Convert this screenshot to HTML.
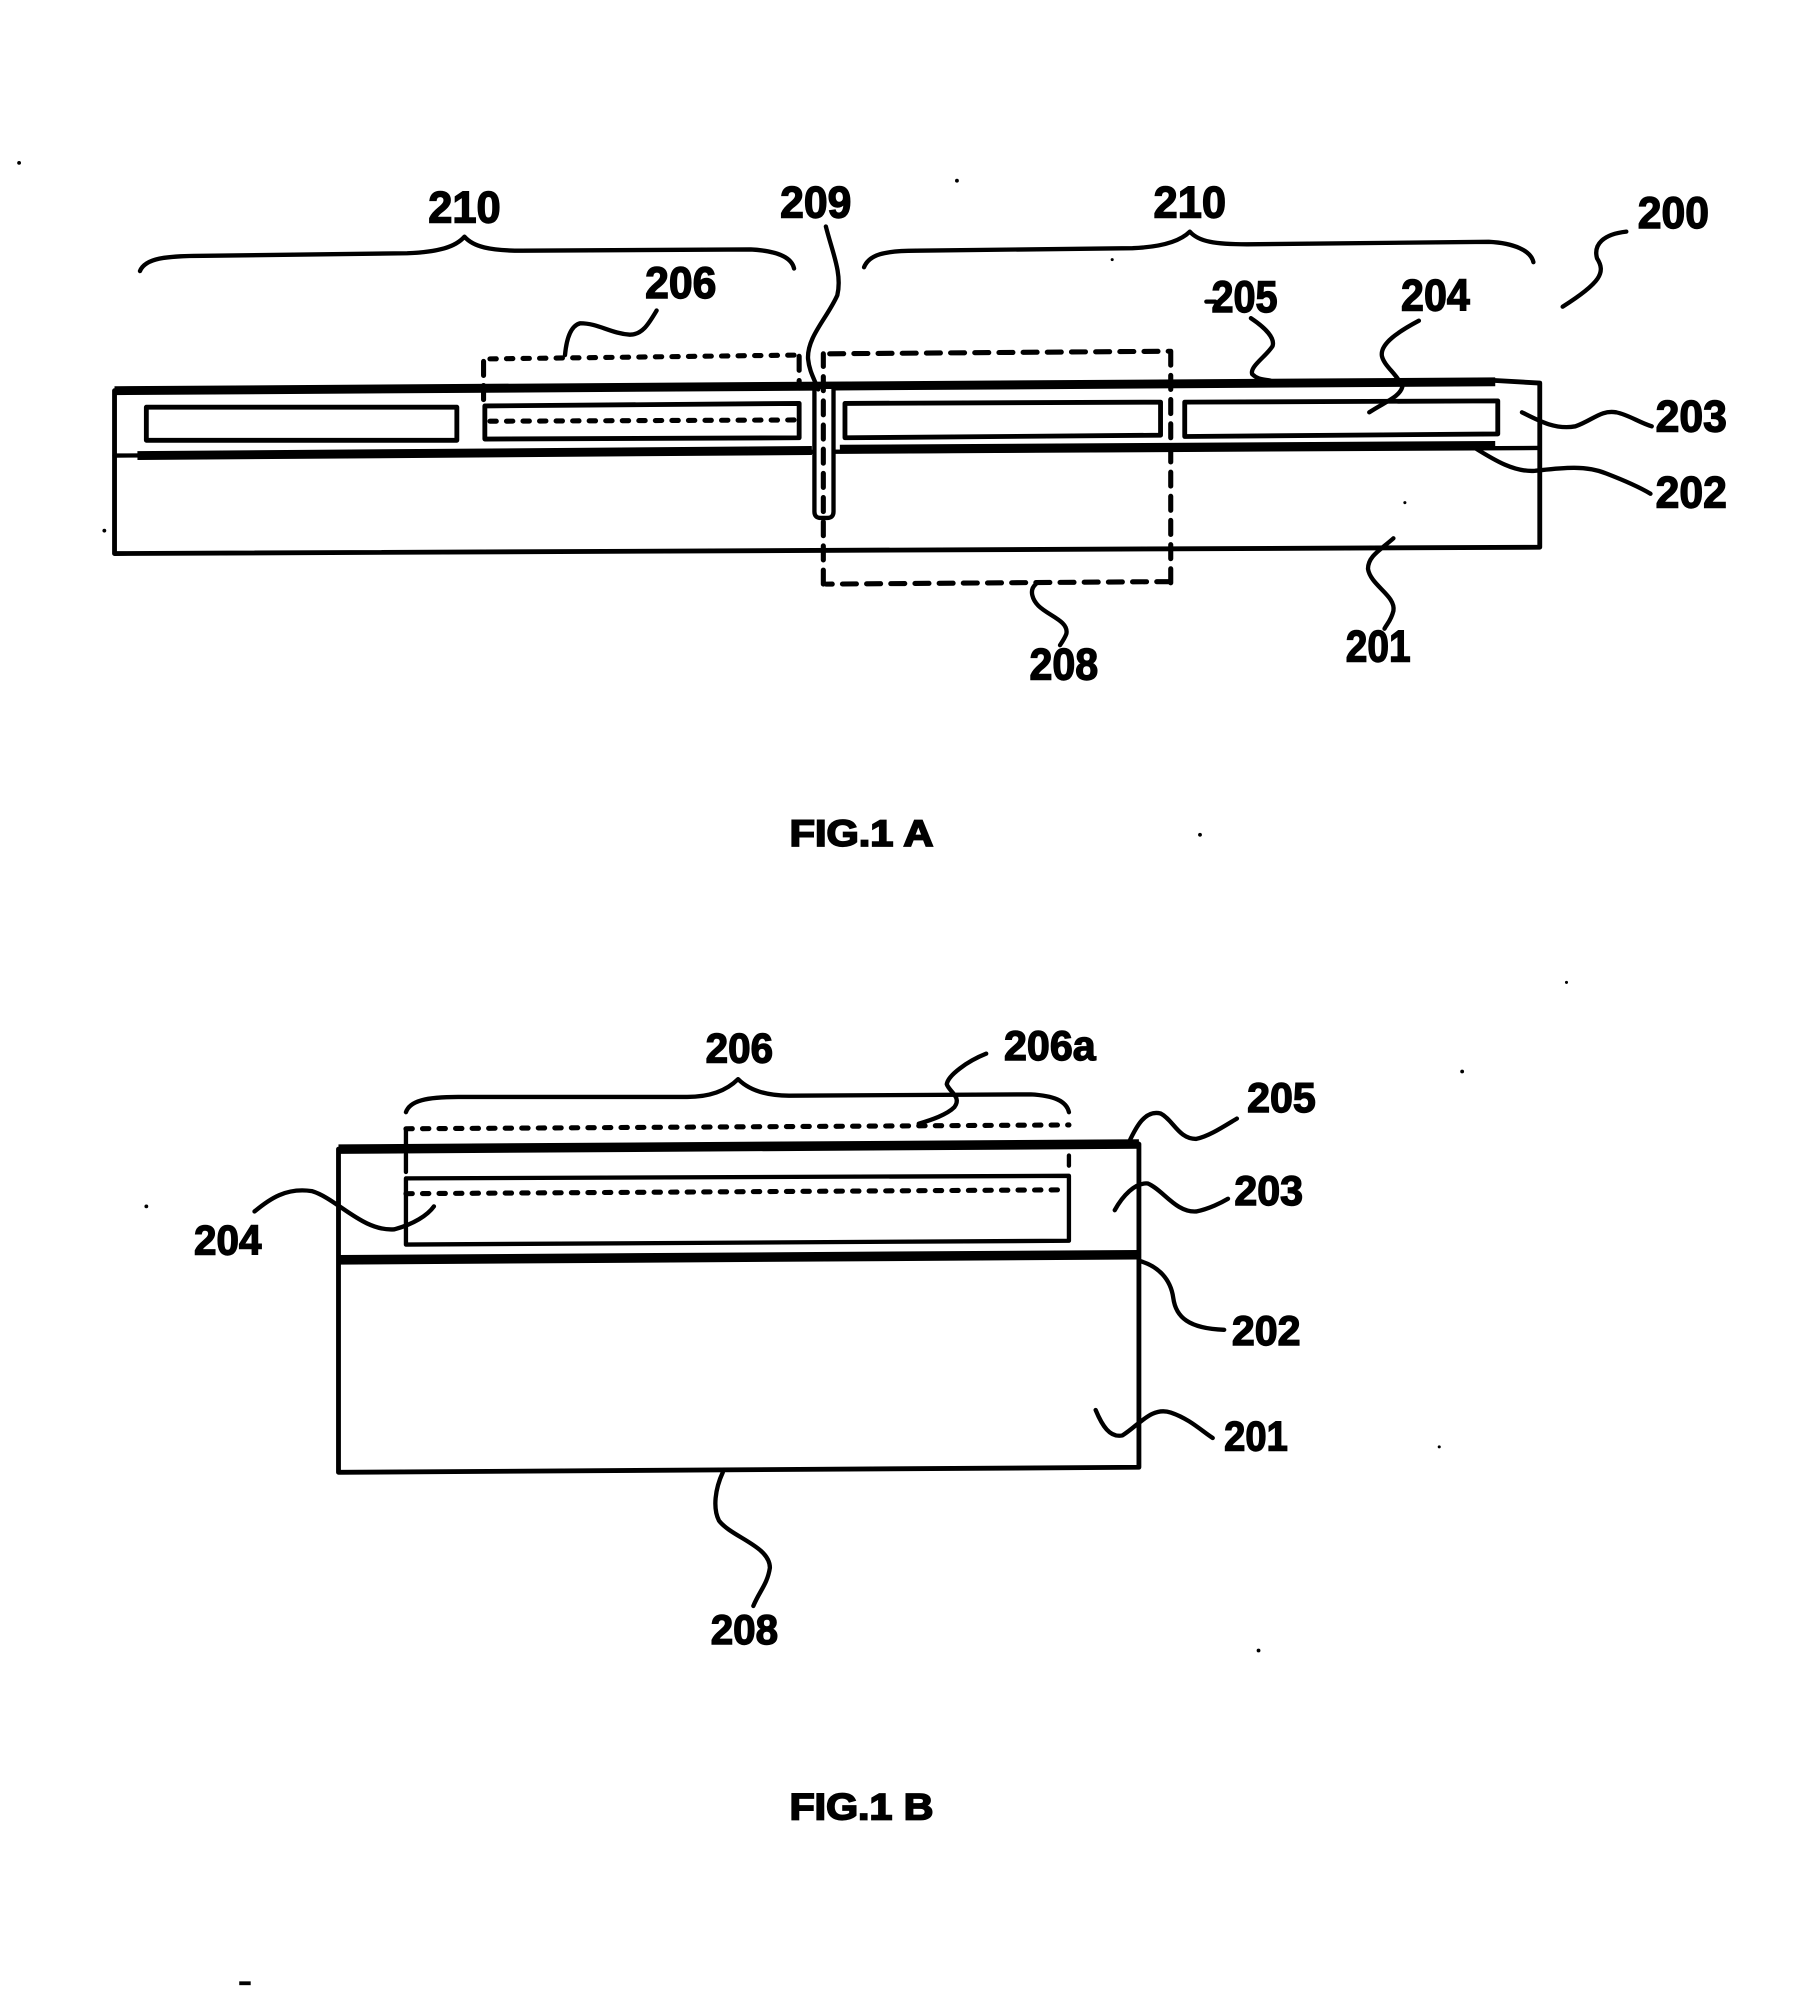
<!DOCTYPE html>
<html><head><meta charset="utf-8"><style>
html,body{margin:0;padding:0;background:#fff}
svg{display:block}
text{font-family:"Liberation Sans",sans-serif;font-weight:bold;fill:#000;stroke:#000;stroke-width:1.1;text-anchor:middle}
.l{font-size:35px}.s{font-size:33px}.f{font-size:29px;stroke-width:1.4}
path,line,rect{fill:none;stroke:#000;stroke-linecap:round;stroke-linejoin:round}
.t{stroke-width:3.4}.h{stroke-width:7;stroke-linecap:butt}.b{stroke-width:3.8}
.d{stroke-width:4;stroke-dasharray:11 8;stroke-linecap:round}
.o{stroke-width:4;stroke-dasharray:5 8}
.p{fill:#000;stroke:none}
</style></head><body>
<svg width="1807" height="1996" viewBox="0 0 1420 1568.5" xmlns="http://www.w3.org/2000/svg">
<rect x="0" y="0" width="1420" height="1569" style="fill:#fff;stroke:none"/>
<!-- FIG 1A body -->
<path class="b" d="M90 307V435L1210 430V301L1175 299"/>
<path class="t" d="M90 358L1210 352"/>
<path class="h" d="M90 307L1175 300"/>
<path class="h" d="M108 358L638 354M660 353L1175 350"/>
<rect class="b" x="115" y="320" width="244" height="26"/>
<path class="b" d="M381 319L628 317V344L381 345Z"/>
<path class="b" d="M664 317L912 316V342L664 344Z"/>
<path class="b" d="M931 316L1177 315V341L931 343Z"/>
<path class="o" d="M385 331L626 330" />
<!-- slot 209 -->
<path style="fill:#fff" stroke-width="3.4" d="M640 304H655V402Q655 407 650 407H645Q640 407 640 402Z"/>
<!-- dashed 206 -->
<path class="o" d="M385 282L628 279"/>
<path class="d" d="M380 284V318M628 280V305"/>
<!-- dashed 208 -->
<path class="d" d="M652 278L919 276M920 276V458M920 457L649 459M647 459V278"/>
<!-- braces -->
<path class="t" d="M110 213C114 203 130 201 160 201L320 199C345 198 358 194 365 186C372 194 385 197 410 197L590 196C610 197 622 202 624 211"/>
<path class="t" d="M679 210C683 200 695 197 720 197L890 195C915 194 928 189 935 182C942 190 955 192 980 192L1170 190C1190 191 1203 197 1205 206"/>
<!-- leaders 1A -->
<path class="t" d="M649 178C654 198 662 215 658 232C650 250 634 265 635 282C636 292 640 298 643 306"/>
<path class="t" d="M516 244C510 254 505 263 495 263C480 262 470 254 456 254C448 256 445 268 444 279"/>
<path class="t" d="M1278 182C1260 184 1252 192 1255 203C1262 214 1258 222 1228 241"/>
<path class="t" d="M983 250C995 258 1002 266 1000 272C995 280 982 288 984 294C988 298 992 298 998 299"/>
<path class="t" d="M1115 252C1100 260 1084 270 1086 280C1088 288 1098 294 1102 304C1100 312 1088 316 1076 324"/>
<path class="t" d="M1196 324C1208 330 1222 338 1238 335C1252 330 1258 322 1270 324C1280 326 1288 332 1298 335"/>
<path class="t" d="M1159 352C1175 362 1190 371 1206 370C1225 368 1245 365 1262 372C1275 377 1287 382 1297 388"/>
<path class="t" d="M1095 423C1085 432 1075 437 1075 447C1077 460 1097 468 1095 480C1093 488 1090 490 1088 494"/>
<path class="t" d="M814 459C808 464 812 472 816 476C824 484 840 488 838 498C837 501 835 504 833 507"/>
<path class="t" d="M948 237H955"/>
<!-- FIG 1B body -->
<path class="b" d="M266 903V1157L895 1153V899"/>
<path class="h" style="stroke-width:7.5" d="M266 903L895 899"/>
<path class="h" style="stroke-width:7.5" d="M266 990L895 986"/>
<path class="t" d="M319 926L840 924V975L319 978Z"/>
<path class="o" d="M319 938L836 935"/>
<path class="o" d="M319 887L840 884"/>
<path class="t" style="stroke-dasharray:14 6" d="M319 887V926"/>
<path class="t" d="M840 908V916"/>
<!-- brace 1B -->
<path class="t" d="M319 874C322 865 335 862 360 862L540 862C560 862 572 856 580 848C588 856 600 861 620 861L810 860C828 861 838 865 840 874"/>
<!-- leaders 1B -->
<path class="t" d="M775 828C760 834 745 845 744 852C746 858 756 862 750 870C744 876 732 880 722 883"/>
<path class="t" d="M887 898C893 885 900 872 912 875C922 880 926 895 940 895C950 893 962 885 972 879"/>
<path class="t" d="M876 951C882 940 892 929 902 930C914 935 924 953 940 952C950 950 960 945 965 942"/>
<path class="t" d="M896 991C910 995 920 1005 922 1020C924 1035 934 1044 962 1045"/>
<path class="t" d="M861 1108C866 1120 872 1130 882 1128C895 1120 905 1105 920 1110C935 1115 945 1125 953 1130"/>
<path class="t" d="M568 1157C562 1170 560 1185 565 1195C575 1208 605 1215 605 1232C603 1245 597 1250 592 1262"/>
<path class="t" d="M200 952C212 942 225 933 245 936C265 942 285 968 310 966C325 962 336 955 341 948"/>
<!-- Labels -->
<text class="l" x="365" y="175" textLength="57" lengthAdjust="spacingAndGlyphs">210</text>
<text class="l" x="641" y="171" textLength="56" lengthAdjust="spacingAndGlyphs">209</text>
<text class="l" x="935" y="171" textLength="57" lengthAdjust="spacingAndGlyphs">210</text>
<text class="l" x="1315" y="179" textLength="56" lengthAdjust="spacingAndGlyphs">200</text>
<text class="l" x="535" y="234" textLength="56" lengthAdjust="spacingAndGlyphs">206</text>
<text class="l" x="978" y="245" textLength="52" lengthAdjust="spacingAndGlyphs">205</text>
<text class="l" x="1128" y="244" textLength="54" lengthAdjust="spacingAndGlyphs">204</text>
<text class="l" x="1329" y="339" textLength="56" lengthAdjust="spacingAndGlyphs">203</text>
<text class="l" x="1329" y="399" textLength="56" lengthAdjust="spacingAndGlyphs">202</text>
<text class="l" x="836" y="534" textLength="54" lengthAdjust="spacingAndGlyphs">208</text>
<text class="l" x="1083" y="520" textLength="51" lengthAdjust="spacingAndGlyphs">201</text>
<text class="f" x="677" y="665" textLength="113" lengthAdjust="spacingAndGlyphs">FIG.1 A</text>
<text class="s" x="581" y="835" textLength="53" lengthAdjust="spacingAndGlyphs">206</text>
<text class="s" x="825" y="833" textLength="72" lengthAdjust="spacingAndGlyphs">206a</text>
<text class="s" x="1007" y="874" textLength="54" lengthAdjust="spacingAndGlyphs">205</text>
<text class="s" x="997" y="947" textLength="54" lengthAdjust="spacingAndGlyphs">203</text>
<text class="s" x="179" y="986" textLength="53" lengthAdjust="spacingAndGlyphs">204</text>
<text class="s" x="995" y="1057" textLength="54" lengthAdjust="spacingAndGlyphs">202</text>
<text class="s" x="987" y="1140" textLength="50" lengthAdjust="spacingAndGlyphs">201</text>
<text class="s" x="585" y="1292" textLength="53" lengthAdjust="spacingAndGlyphs">208</text>
<text class="f" x="677" y="1430" textLength="113" lengthAdjust="spacingAndGlyphs">FIG.1 B</text>
<!-- specks -->
<circle class="p" cx="15" cy="128" r="1.5"/><circle class="p" cx="752" cy="142" r="1.5"/>
<circle class="p" cx="874" cy="204" r="1.2"/><circle class="p" cx="1104" cy="395" r="1.2"/>
<circle class="p" cx="82" cy="417" r="1.5"/><circle class="p" cx="943" cy="656" r="1.5"/>
<circle class="p" cx="1231" cy="772" r="1.2"/><circle class="p" cx="1149" cy="842" r="1.5"/>
<circle class="p" cx="115" cy="948" r="1.5"/><circle class="p" cx="1131" cy="1137" r="1.2"/>
<circle class="p" cx="989" cy="1297" r="1.5"/>
<rect class="p" x="188" y="1557" width="9" height="3"/>
</svg>
</body></html>
